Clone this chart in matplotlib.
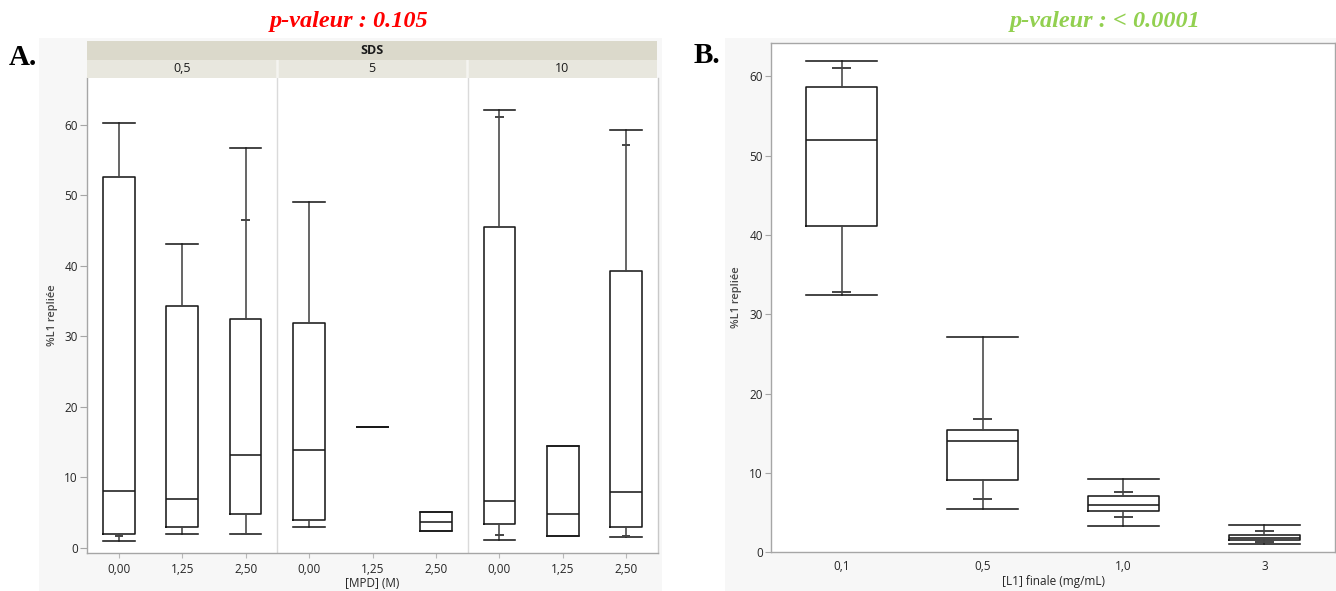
import numpy as np
import matplotlib
matplotlib.use("Agg")
import matplotlib.pyplot as plt
from matplotlib.patches import Rectangle

nan = np.nan

# ---------------- Panel A: %L1 repliée vs [MPD], split by SDS ----------------
sds_levels = ["0,5", "5", "10"]
mpd_labels = ["0,00", "1,25", "2,50"]
# one entry per box: SDS 0,5 (MPD 0,00 / 1,25 / 2,50), then SDS 5, then SDS 10
a_whislo = [1.0, 1.9, 1.9, 2.9, 17.1, 2.3, 1.14, 1.7, 1.56]
a_p10 = [1.7, nan, 2.0, nan, nan, nan, 1.75, nan, 1.7]
a_q1 = [2.0, 2.9, 4.7, 3.9, 17.1, 2.3, 3.3, 1.7, 2.9]
a_med = [8.1, 6.9, 13.1, 13.9, 17.1, 3.65, 6.55, 4.8, 7.95]
a_q3 = [52.5, 34.3, 32.4, 31.9, 17.1, 5.1, 45.4, 14.45, 39.3]
a_p90 = [nan, nan, 46.5, nan, nan, nan, 61.0, nan, 57.1]
a_whishi = [60.2, 43.0, 56.7, 49.0, 17.1, 5.1, 62.0, 14.45, 59.2]

# ---------------- Panel B: %L1 repliée vs final [L1] ----------------
l1_labels = ["0,1", "0,5", "1,0", "3"]
b_whislo = [32.4, 5.45, 3.35, 1.0]
b_p10 = [32.8, 6.75, 4.5, 1.25]
b_q1 = [41.1, 9.1, 5.2, 1.6]
b_med = [52.0, 14.0, 5.95, 1.8]
b_q3 = [58.7, 15.4, 7.1, 2.2]
b_p90 = [61.1, 16.8, 7.6, 2.7]
b_whishi = [62.0, 27.1, 9.3, 3.45]

yticks = [0, 10, 20, 30, 40, 50, 60]

W, H = 1336, 591
FONT = "Open Sans"
BOX_C = "#1a1a1a"
WHISK_C = "#444444"
SPINE_C = "#a6a6a6"
BG = "#f7f7f7"
LABEL_C = "#262626"


def fx(px):
    return px / W


def fy(py):
    return 1 - py / H


fig = plt.figure(figsize=(W / 100, H / 100), dpi=100)
fig.patch.set_facecolor("white")

# light grey report backgrounds, kept behind the axes
for x0, x1 in [(38.5, 662), (725, 1336)]:
    fig.patches.append(Rectangle((fx(x0), 0), fx(x1 - x0), fy(38),
                                 transform=fig.transFigure, facecolor=BG,
                                 edgecolor="none", zorder=-10))


def draw_boxes(ax, whislo, p10, q1, med, q3, p90, whishi):
    n = len(med)
    pos = np.arange(n)
    stats = [dict(whislo=whislo[i], q1=q1[i], med=med[i], q3=q3[i],
                  whishi=whishi[i], fliers=[]) for i in range(n)]
    ax.bxp(stats, positions=pos, widths=0.5, capwidths=0.5,
           showfliers=False, patch_artist=False,
           boxprops=dict(color=BOX_C, lw=1.15),
           medianprops=dict(color=BOX_C, lw=1.15),
           whiskerprops=dict(color=WHISK_C, lw=1.15),
           capprops=dict(color=BOX_C, lw=1.15))
    # 10th / 90th percentile marks on the whiskers
    for vals in (p10, p90):
        for i, v in enumerate(vals):
            if np.isfinite(v):
                ax.hlines(v, pos[i] - 0.065, pos[i] + 0.065,
                          color=WHISK_C, lw=1.4, zorder=3)


def style_axis(ax, ylim, tick_len):
    ax.set_facecolor("white")
    ax.set_ylim(*ylim)
    ax.set_yticks(yticks)
    ax.set_yticklabels([str(t) for t in yticks])
    ax.tick_params(axis="y", length=tick_len, width=0.8, color=SPINE_C,
                   pad=1.5, labelsize=8.5, labelcolor=LABEL_C)
    ax.tick_params(axis="x", length=0, pad=7.5, labelsize=8.5,
                   labelcolor=LABEL_C)
    for lab in ax.get_yticklabels() + ax.get_xticklabels():
        lab.set_family(FONT)
    for s in ax.spines.values():
        s.set_color(SPINE_C)
        s.set_linewidth(1.0)


# ---------------- Panel A ----------------
axA = fig.add_axes([fx(87), fy(552.7), fx(658 - 87), (552.7 - 78) / H])
draw_boxes(axA, a_whislo, a_p10, a_q1, a_med, a_q3, a_p90, a_whishi)
nA = len(sds_levels) * len(mpd_labels)
axA.set_xlim(-0.5, nA - 0.5)
axA.set_xticks(np.arange(nA))
axA.set_xticklabels(mpd_labels * len(sds_levels))
style_axis(axA, (-0.72, 66.6), 5.2)
axA.tick_params(axis="x", length=3.6, width=0.8, color="#b8b8b8", pad=4)
axA.spines["top"].set_visible(False)
axA.spines["right"].set_color("#c8c8c8")
for k in range(1, len(sds_levels)):
    axA.axvline(k * len(mpd_labels) - 0.5, color="#dadada", lw=1.0, zorder=0)

# facet header bands
hdr_top = fig.add_axes([fx(87), fy(60), fx(657 - 87), 19 / H])
hdr_top.set_xlim(-0.5, nA - 0.5)
hdr_top.set_ylim(0, 1)
hdr_top.axis("off")
hdr_top.add_patch(Rectangle((-0.5, 0), nA, 1, facecolor="#dbd9cb",
                            edgecolor="none"))
hdr_top.text((nA - 1) / 2, 0.5, "SDS", ha="center", va="center",
             family=FONT, weight="bold", size=9, color="#1a1a1a")

hdr_sub = fig.add_axes([fx(87), fy(78), fx(657 - 87), 18 / H])
hdr_sub.set_xlim(-0.5, nA - 0.5)
hdr_sub.set_ylim(0, 1)
hdr_sub.axis("off")
for k, lev in enumerate(sds_levels):
    x0 = k * len(mpd_labels) - 0.5
    hdr_sub.add_patch(Rectangle((x0, 0), len(mpd_labels), 1,
                                facecolor="#e8e7de", edgecolor="none"))
    hdr_sub.text(x0 + len(mpd_labels) / 2, 0.5, lev, ha="center",
                 va="center", family=FONT, size=9, color="#1a1a1a")
    if k > 0:
        hdr_sub.axvline(x0, color="#f4f4f0", lw=1.8)

fig.text(fx(52), fy(315), "%L1 repliée", rotation=90, ha="center",
         va="center", family=FONT, size=8, weight="semibold", color="#4a4a4a")
fig.text(fx(372), fy(590), "[MPD] (M)", ha="center", va="bottom",
         family=FONT, size=8.5, color=LABEL_C)

# ---------------- Panel B ----------------
axB = fig.add_axes([fx(771.2), fy(552.3), fx(1334.8 - 771.2), (552.3 - 42.7) / H])
draw_boxes(axB, b_whislo, b_p10, b_q1, b_med, b_q3, b_p90, b_whishi)
axB.set_xlim(-0.5, len(l1_labels) - 0.5)
axB.set_xticks(np.arange(len(l1_labels)))
axB.set_xticklabels(l1_labels)
style_axis(axB, (0, 64.26), 4.5)
axB.tick_params(axis="x", pad=5.5)

fig.text(fx(737), fy(297.5), "%L1 repliée", rotation=90, ha="center",
         va="center", family=FONT, size=8, weight="semibold", color="#4a4a4a")
fig.text(fx(1053), fy(581), "[L1] finale (mg/mL)", ha="center", va="center",
         family=FONT, size=8.5, color=LABEL_C)

# ---------------- panel letters and p-values ----------------
fig.text(fx(9), fy(65), "A.", ha="left", va="baseline",
         family="Liberation Serif", weight="bold", size=21, color="black")
fig.text(fx(694), fy(63), "B.", ha="left", va="baseline",
         family="Liberation Serif", weight="bold", size=21, color="black")
fig.text(fx(349), fy(27.5), "p-valeur : 0.105", ha="center", va="baseline",
         family="Liberation Serif", weight="bold", style="italic", size=17.5,
         color="#ff0000")
fig.text(fx(1105), fy(27), "p-valeur : < 0.0001", ha="center",
         va="baseline", family="Liberation Serif", weight="bold",
         style="italic", size=17.5, color="#92d050")

fig.savefig("out.png", dpi=100)
